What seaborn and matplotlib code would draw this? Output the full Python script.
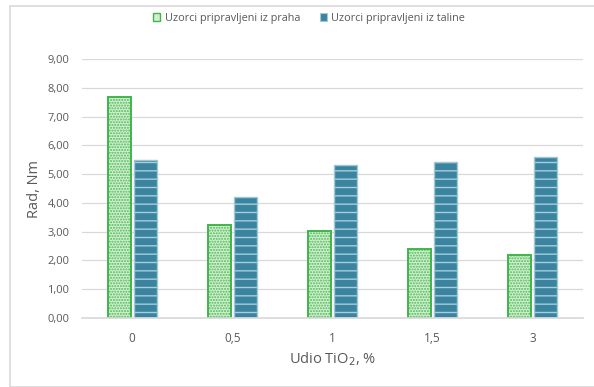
import matplotlib
matplotlib.use("Agg")
import matplotlib.pyplot as plt
import seaborn as sns
import pandas as pd
from matplotlib.patches import Rectangle

categories = ["0", "0,5", "1", "1,5", "3"]
series_names = ["Uzorci pripravljeni iz praha", "Uzorci pripravljeni iz taline"]
powder = [7.67, 3.23, 3.02, 2.40, 2.19]
melt = [5.50, 4.20, 5.31, 5.42, 5.60]
yticks = [0, 1, 2, 3, 4, 5, 6, 7, 8, 9]
ytick_labels = ["0,00", "1,00", "2,00", "3,00", "4,00", "5,00", "6,00", "7,00", "8,00", "9,00"]

df = pd.DataFrame({
    "cat": categories * 2,
    "val": powder + melt,
    "series": [series_names[0]] * len(categories) + [series_names[1]] * len(categories),
})

sns.set_theme(style="white")
plt.rcParams["font.family"] = ["Open Sans", "DejaVu Sans"]
plt.rcParams["hatch.linewidth"] = 1.0

fig = plt.figure(figsize=(5.94, 3.87), dpi=100)
ax = fig.add_axes([82 / 594, 1 - 318 / 387, 501 / 594, 259 / 387])

green_fill = "#d3efd0"
green_edge = "#3fb54a"
green_hatch = "#4dbb58"
blue_fill = "#3b84a0"
blue_hatch = "#a8cddb"

sns.barplot(data=df, x="cat", y="val", hue="series", order=categories,
            hue_order=series_names, palette=[green_fill, blue_fill],
            width=0.52, gap=0.12, ax=ax, legend=True)

n = len(categories)
for i, bar in enumerate(ax.patches[:2 * n]):
    if i < n:
        bar.set_facecolor(green_fill)
        bar.set_edgecolor(green_hatch)
        bar.set_hatch("......")
        bar.set_linewidth(0)
        x, w, h = bar.get_x(), bar.get_width(), bar.get_height()
        ax.add_patch(Rectangle((x, 0), w, h, fill=False, edgecolor=green_edge,
                               linewidth=1.4, zorder=bar.get_zorder() + 0.1))
    else:
        bar.set_facecolor(blue_fill)
        bar.set_edgecolor(blue_hatch)
        bar.set_hatch("--")
        bar.set_linewidth(0)
        x, w, h = bar.get_x(), bar.get_width(), bar.get_height()
        ax.add_patch(Rectangle((x, 0), w, h, fill=False, edgecolor="#9fc7d6",
                               linewidth=1.0, zorder=bar.get_zorder() + 0.1))

ax.set_ylim(0, 9)
ax.set_xlim(-0.5, 4.5)
ax.set_yticks(yticks)
ax.set_yticklabels(ytick_labels, fontsize=8, color="#595959")
ax.tick_params(axis="x", labelsize=8.5, colors="#595959", length=0, pad=10)
ax.tick_params(axis="y", length=0, pad=9)
ax.grid(axis="y", color="#d9d9d9", linewidth=0.9)
ax.set_axisbelow(True)
for s in ["top", "right", "left"]:
    ax.spines[s].set_visible(False)
ax.spines["bottom"].set_color("#d9d9d9")

ax.set_ylabel("Rad, Nm", fontsize=10.5, color="#595959", labelpad=4)
ax.set_xlabel("Udio TiO$_2$, %", fontsize=10.5, color="#595959", labelpad=4)

hp = Rectangle((0, 0), 1, 1, facecolor=green_fill, edgecolor=green_edge, linewidth=1)
hm = Rectangle((0, 0), 1, 1, facecolor=blue_fill, edgecolor="#9fc7d6", linewidth=0.8)
ax.legend([hp, hm], series_names, loc="center", bbox_to_anchor=(309 / 594, 1 - 18 / 387),
          bbox_transform=fig.transFigure, ncol=2, frameon=False, fontsize=7.8,
          handlelength=0.7, handleheight=0.7, columnspacing=1.8, handletextpad=0.4,
          labelcolor="#595959")

fig.patches.append(Rectangle((10 / 594, 0), 1, 1 - 6 / 387, transform=fig.transFigure,
                             fill=False, edgecolor="#d9d9d9", linewidth=1.2))

fig.savefig("out.png", dpi=100)
